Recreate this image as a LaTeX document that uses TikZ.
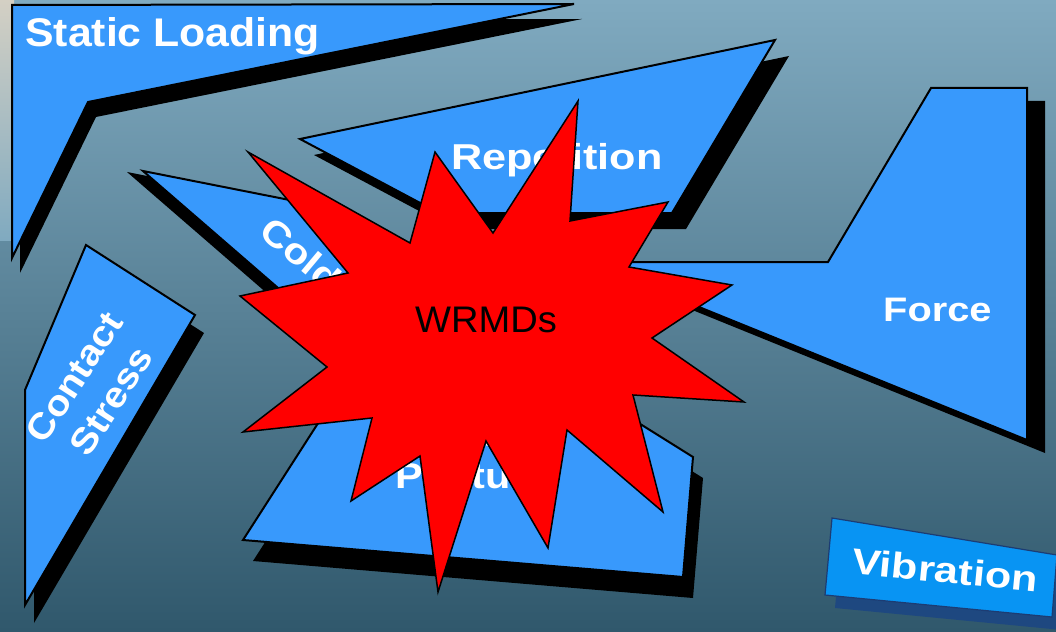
\documentclass[tikz,border=0pt]{standalone}
\usepackage{fontspec}
\setmainfont{Liberation Sans}
\usepackage{graphicx}
\definecolor{shapeblue}{RGB}{56,153,252}
\definecolor{vibblue}{RGB}{8,148,243}
\definecolor{vibshadow}{RGB}{30,72,128}
\definecolor{vibline}{RGB}{28,60,115}
\definecolor{bgtop}{RGB}{128,170,192}
\definecolor{bgmid}{RGB}{92,134,153}
\definecolor{bgbot}{RGB}{48,88,108}
\definecolor{patch}{RGB}{212,208,196}
\definecolor{starred}{RGB}{255,0,0}
\tikzset{
  blk/.style={fill=shapeblue, draw=black, line width=2pt},
  shd/.style={fill=black},
  lbl/.style={text=white, inner sep=0pt},
  starshape/.style={fill=starred, draw=black, line width=1.5pt},
}
\begin{document}
\begin{tikzpicture}[x=1pt,y=-1pt]
\useasboundingbox (0,0) rectangle (1056,631);
% background
\shade[top color=bgtop, middle color=bgmid, bottom color=bgbot] (0,0) rectangle (1056,631);
\shade[top color=patch, bottom color=bgtop] (0,0) rectangle (14,240);

% Static Loading
\fill[shd, shift={(8,15)}] (12,5) -- (574,4) -- (88,102) -- (12,258) -- cycle;
\draw[blk] (12,5) -- (574,4) -- (88,102) -- (12,258) -- cycle;
\node[lbl, anchor=base west, font=\fontsize{40}{44}\selectfont\bfseries] (static) at (25,46.7) {\scalebox{1.07}[1]{Static Loading}};

% Repetition
\fill[shd, shift={(14,16)}] (300,139) -- (775,40) -- (672,213) -- (439,213) -- cycle;
\draw[blk] (300,139) -- (775,40) -- (672,213) -- (439,213) -- cycle;
\node[lbl, anchor=base west, font=\fontsize{36}{40}\selectfont\bfseries] (rep) at (451,169) {\scalebox{1.2}[1]{Repetition}};

% Cold
\fill[shd, shift={(-16,1)}] (143,171) -- (325,207) -- (360,300) -- (285,294) -- cycle;
\draw[blk] (143,171) -- (325,207) -- (360,300) -- (285,294) -- cycle;
\node[lbl, rotate=-40, font=\fontsize{36}{40}\selectfont\bfseries] (cold) at (301,254) {\scalebox{1.15}[1]{Cold}};

% Contact Stress
\fill[shd, shift={(9,18)}] (86,245) -- (195,315) -- (25,605) -- (25,390) -- cycle;
\draw[blk] (86,245) -- (195,315) -- (25,605) -- (25,390) -- cycle;
\node[lbl, rotate=57, align=center, font=\fontsize{36}{44}\selectfont\bfseries] (contact) at (93,389) {\scalebox{1.1}[1]{Contact}\\\scalebox{1.1}[1]{Stress}};

% Force
\fill[shd, shift={(18,13)}] (931,88) -- (1027,88) -- (1027,440) -- (588,262) -- (828,262) -- cycle;
\draw[blk] (931,88) -- (1027,88) -- (1027,440) -- (588,262) -- (828,262) -- cycle;
\node[lbl, anchor=base west, font=\fontsize{34}{38}\selectfont\bfseries] (force) at (883,321) {\scalebox{1.17}[1]{Force}};

% Awkward Posture
\fill[shd, shift={(10,21)}] (410,280) -- (693,457) -- (683,577) -- (243,540) -- cycle;
\draw[blk] (410,280) -- (693,457) -- (683,577) -- (243,540) -- cycle;
\node[lbl, align=center, font=\fontsize{36}{42}\selectfont\bfseries] (posture) at (473,455) {\scalebox{1.15}[1]{Awkward}\\\scalebox{1.15}[1]{Posture}};

% Star
\draw[starshape] (578,101) -- (570,221) -- (668,202) -- (629,267) -- (732,285) -- (652,338)
  -- (744,402) -- (633,395) -- (663,512) -- (567,430) -- (548,548) -- (486,441)
  -- (438,592) -- (420,456) -- (351,501) -- (372,418) -- (243,432) -- (327,367)
  -- (240,296) -- (348,273) -- (248,152) -- (410,243) -- (435,152) -- (493,233) -- cycle;
\node[anchor=base, text=black, inner sep=0pt, font=\fontsize{37}{40}\selectfont] (wrmds) at (486,332) {\scalebox{1.03}[1]{WRMDs}};

% Vibration
\fill[vibshadow, shift={(10,13)}] (832,518) -- (1057,555) -- (1052,617) -- (825,595) -- cycle;
\draw[fill=vibblue, draw=vibline, line width=1.2pt] (832,518) -- (1057,555) -- (1052,617) -- (825,595) -- cycle;
\node[lbl, rotate=-5.5, font=\fontsize{36}{40}\selectfont\bfseries] (vib) at (945,570) {\scalebox{1.2}[1]{Vibration}};
\end{tikzpicture}
\end{document}
